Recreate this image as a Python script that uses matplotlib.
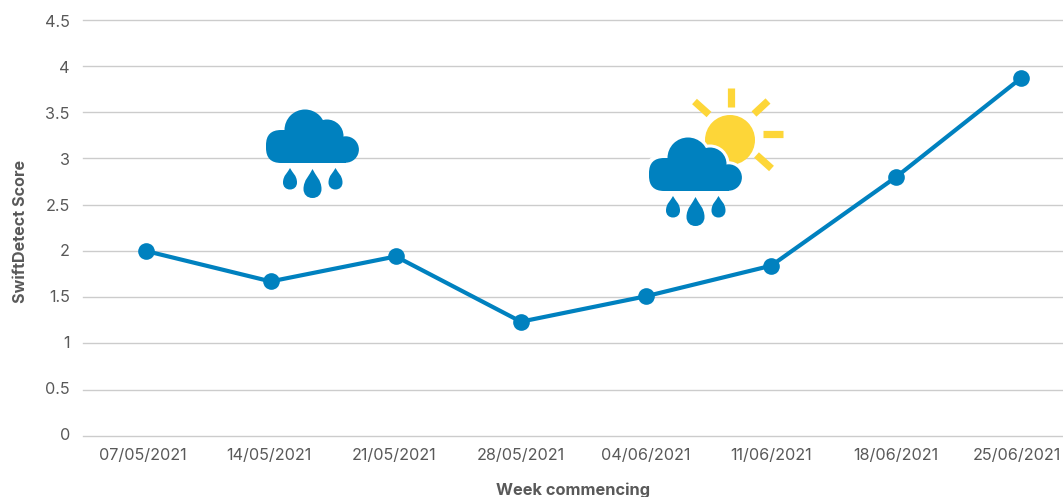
import matplotlib
matplotlib.use("Agg")
import matplotlib.pyplot as plt
from matplotlib.path import Path
from matplotlib.patches import Circle, FancyBboxPatch, PathPatch, Rectangle
from matplotlib.transforms import ScaledTranslation

plt.rcParams['font.family'] = ['Inter', 'DejaVu Sans']

weeks = ["07/05/2021", "14/05/2021", "21/05/2021", "28/05/2021",
         "04/06/2021", "11/06/2021", "18/06/2021", "25/06/2021"]
scores = [2.0, 1.67, 1.94, 1.235, 1.51, 1.84, 2.8, 3.87]
y_ticks = [0, 0.5, 1, 1.5, 2, 2.5, 3, 3.5, 4, 4.5]
y_tick_labels = ["0", "0.5", "1", "1.5", "2", "2.5", "3", "3.5", "4", "4.5"]

BLUE = "#0081BF"
SUN = "#FDD638"
GREY = "#595959"
W, H = 1063, 497

fig = plt.figure(figsize=(W / 100, H / 100), dpi=100)

# the plot runs past the right edge of the picture
ax = fig.add_axes([83 / W, 1 - 436 / H, 1001 / W, 416.5 / H])
ax.set_xlim(-0.5, 7.5)
ax.set_ylim(0, 4.5)
ax.set_yticks(y_ticks)
ax.set_yticklabels(y_tick_labels)
ax.set_xticks(range(len(weeks)))
ax.set_xticklabels(weeks)
ax.tick_params(axis="both", length=0, labelsize=11.7, labelcolor=GREY)
ax.tick_params(axis="x", pad=9)
ax.tick_params(axis="y", pad=9.5)
ax.grid(axis="y", color="#CCCCCC", linewidth=1.0, clip_on=False)
ax.set_axisbelow(True)
for s in ax.spines.values():
    s.set_visible(False)
for line in ax.get_ygridlines():
    line.set_clip_on(False)

# labels sit a little off their gridlines in the original
for v, lab in zip(y_ticks, ax.get_yticklabels()):
    shift = (2 - 3.5 * v / 4.5) / 100
    lab.set_transform(lab.get_transform() + ScaledTranslation(0, shift, fig.dpi_scale_trans))
x_shifts = [-2.5, -2, -2, 0, -0.5, -0.5, -1, -5]
for dx, lab in zip(x_shifts, ax.get_xticklabels()):
    lab.set_transform(lab.get_transform() + ScaledTranslation(dx / 100, 0, fig.dpi_scale_trans))

ax.plot(range(len(weeks)), scores, color=BLUE, linewidth=3.0, marker="o",
        markersize=12, markeredgewidth=0, clip_on=False, zorder=3)

fig.text(21 / W, 1 - 231 / H, "SwiftDetect Score", rotation=90, ha="center", va="center",
         fontsize=11.6, fontweight="bold", color=GREY)
fig.text(573 / W, 1 - 490 / H, "Week commencing", ha="center", va="center",
         fontsize=11.8, fontweight="bold", color=GREY)

# overlay in pixels for the weather icons
icons = fig.add_axes([0, 0, 1, 1])
icons.set_xlim(0, W)
icons.set_ylim(H, 0)
icons.axis("off")
icons.patch.set_alpha(0)


def drop(x, tip, bottom, width):
    r = width / 2
    mid = bottom - r
    verts = [(x, tip), (x + r * 0.3, tip + (mid - tip) * 0.3), (x + r, mid - r), (x + r, mid),
             (x + r, mid + r * 0.6), (x + r * 0.6, bottom), (x, bottom),
             (x - r * 0.6, bottom), (x - r, mid + r * 0.6), (x - r, mid),
             (x - r, mid - r), (x - r * 0.3, tip + (mid - tip) * 0.3), (x, tip), (x, tip)]
    codes = [Path.MOVETO] + [Path.CURVE4] * 12 + [Path.CLOSEPOLY]
    icons.add_patch(PathPatch(Path(verts, codes), facecolor=BLUE, edgecolor="none", zorder=6))


def shapes(dx, dy, grow, color, z):
    # rounded left end, top lobes, smaller right end
    icons.add_patch(FancyBboxPatch((281 + dx - grow, 145 + dy - grow), 40 + 2 * grow, 3 + 2 * grow,
                                   boxstyle="round,pad=15", facecolor=color, edgecolor="none", zorder=z))
    for cx, cy, r in [(305, 130, 20.5), (327, 136, 16.5), (345.7, 149.5, 13.2)]:
        icons.add_patch(Circle((cx + dx, cy + dy), r + grow, facecolor=color, edgecolor="none", zorder=z))
    icons.add_patch(Rectangle((300 + dx, 140 + dy), 46, 22.7 + grow, facecolor=color, edgecolor="none", zorder=z))


def cloud(dx, dy, halo=False):
    if halo:
        shapes(dx, dy, 3, "white", 5)
    shapes(dx, dy, 0, BLUE, 6)
    drop(290 + dx, 168 + dy, 189.5 + dy, 14)
    drop(312.5 + dx, 169 + dy, 198 + dy, 18)
    drop(335.5 + dx, 168 + dy, 189.5 + dy, 14)


cloud(0, 0)

# sun behind the second cloud
icons.add_patch(Circle((730, 140), 25, facecolor=SUN, edgecolor="none", zorder=4))
rays = [((731, 87.5), (731, 106.5)), ((763, 133.5), (782.5, 133.5)), ((694.5, 101.5), (709, 114.5)),
        ((768, 101), (754, 114)), ((756.5, 155), (771.5, 168.5))]
for (x0, y0), (x1, y1) in rays:
    icons.plot([x0, x1], [y0, y1], color=SUN, linewidth=5.2, solid_capstyle="butt", zorder=4)
cloud(383, 28, halo=True)

fig.savefig("out.png", dpi=100)
